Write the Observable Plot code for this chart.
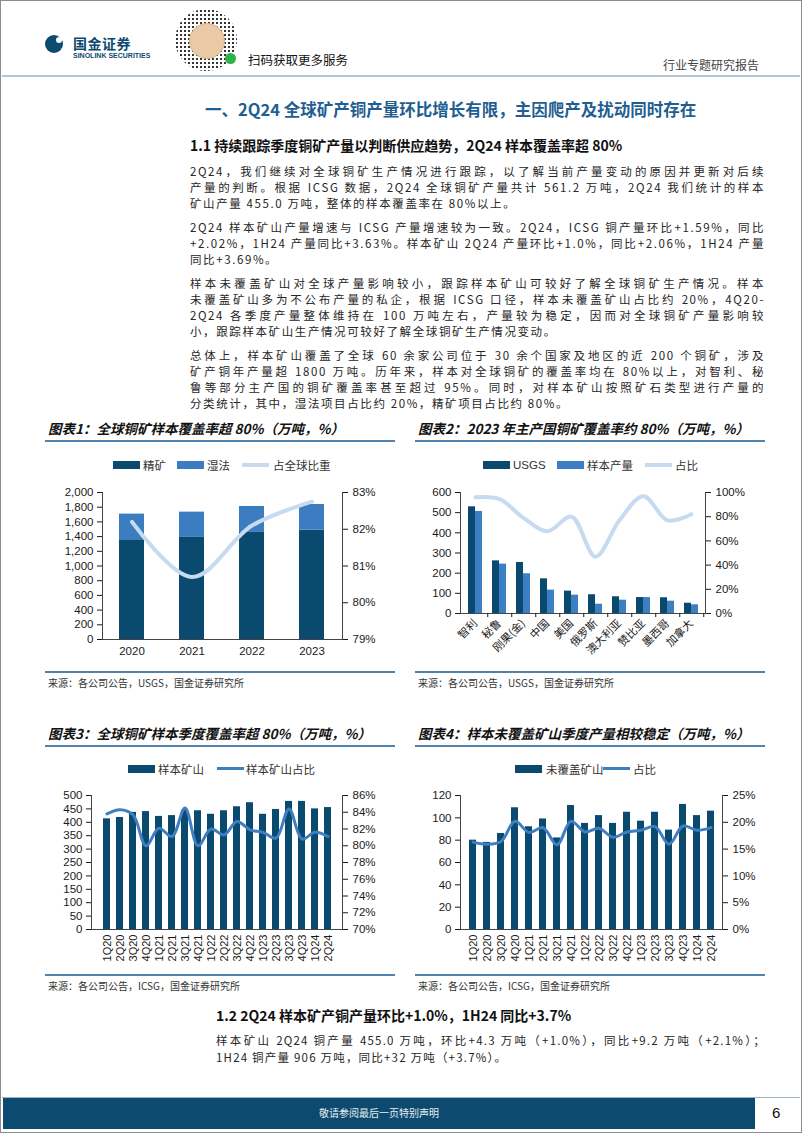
<!DOCTYPE html>
<html><head><meta charset="utf-8">
<script src="https://cdn.jsdelivr.net/npm/d3@7"></script>
<script src="https://cdn.jsdelivr.net/npm/@observablehq/plot@0.6"></script>
<style>
body{margin:0;background:#fff;}
#page{position:relative;width:802px;height:1133px;overflow:hidden;background:#fff;font-family:"Noto Sans CJK SC",sans-serif;color:#222;}
.t{position:absolute;white-space:nowrap;}
.p{position:absolute;left:190px;width:575px;font-size:11.5px;line-height:16px;letter-spacing:1.6px;font-family:"Noto Sans CJK SC",sans-serif;color:#262626;}
.p div{height:16px;text-align:justify;text-align-last:justify;}
.p div.last{text-align-last:left;}
.ctitle{position:absolute;font-size:13.5px;font-weight:700;font-style:italic;line-height:18px;white-space:nowrap;color:#111;}
.rule{position:absolute;height:2px;background:#4f82ad;}
.src{position:absolute;font-size:10px;line-height:14px;color:#333;white-space:nowrap;}
.lg{position:absolute;font-size:11.5px;line-height:14px;color:#333;white-space:nowrap;}
.sw{position:absolute;width:27px;height:8px;}
.ln{position:absolute;width:27px;}
.chart{position:absolute;}
</style></head>
<body><div id="page">
<div style="position:absolute;left:0;top:0;width:802px;height:1133px;border:1px solid #8c8c8c;box-sizing:border-box;"></div>
<!-- header -->
<div style="position:absolute;left:45px;top:35px;width:18px;height:18px;border-radius:50%;background:#0d4a6f;"></div>
<div style="position:absolute;left:56px;top:37px;width:6px;height:6px;border-radius:50%;background:#fff;"></div>
<div class="t" style="left:73px;top:34px;font-size:14px;line-height:18px;font-weight:700;color:#0d4a6f;letter-spacing:0.5px;">国金证券</div>
<div class="t" style="left:73px;top:52px;font-size:7px;line-height:8px;font-weight:700;color:#0d4a6f;font-family:'Liberation Sans',sans-serif;">SINOLINK SECURITIES</div>
<div style="position:absolute;left:175px;top:9px;width:62px;height:62px;border-radius:50%;background:radial-gradient(circle,#333 0.9px,transparent 1.3px) 0 0/4px 4px;"></div>
<div style="position:absolute;left:189px;top:23px;width:34px;height:34px;border-radius:50%;background:#e9c9a6;border:1px solid #d9b48c;"></div>
<div style="position:absolute;left:225px;top:53px;width:11px;height:11px;border-radius:50%;background:#2cb34a;"></div>
<div class="t" style="left:248px;top:51px;font-size:12.5px;line-height:18px;color:#111;">扫码获取更多服务</div>
<div class="t" style="left:663px;top:57px;font-size:12px;line-height:16px;color:#444;">行业专题研究报告</div>
<div style="position:absolute;left:2px;top:75px;width:798px;height:2px;background:#b5c6d3;"></div>

<div class="t" style="left:205px;top:98px;font-size:16.5px;line-height:22px;font-weight:700;color:#1e5e90;">一、2Q24 全球矿产铜产量环比增长有限，主因爬产及扰动同时存在</div>
<div class="t" style="left:190px;top:136px;font-size:14px;line-height:18px;font-weight:700;color:#111;">1.1 持续跟踪季度铜矿产量以判断供应趋势，2Q24 样本覆盖率超 80%</div>

<div class="p" style="top:163px;">
<div>2Q24，我们继续对全球铜矿生产情况进行跟踪，以了解当前产量变动的原因并更新对后续</div>
<div>产量的判断。根据 ICSG 数据，2Q24 全球铜矿产量共计 561.2 万吨，2Q24 我们统计的样本</div>
<div class="last">矿山产量 455.0 万吨，整体的样本覆盖率在 80%以上。</div>
</div>
<div class="p" style="top:219px;">
<div>2Q24 样本矿山产量增速与 ICSG 产量增速较为一致。2Q24，ICSG 铜产量环比+1.59%，同比</div>
<div>+2.02%，1H24 产量同比+3.63%。样本矿山 2Q24 产量环比+1.0%，同比+2.06%，1H24 产量</div>
<div class="last">同比+3.69%。</div>
</div>
<div class="p" style="top:275px;">
<div>样本未覆盖矿山对全球产量影响较小，跟踪样本矿山可较好了解全球铜矿生产情况。样本</div>
<div>未覆盖矿山多为不公布产量的私企，根据 ICSG 口径，样本未覆盖矿山占比约 20%，4Q20-</div>
<div>2Q24 各季度产量整体维持在 100 万吨左右，产量较为稳定，因而对全球铜矿产量影响较</div>
<div class="last">小，跟踪样本矿山生产情况可较好了解全球铜矿生产情况变动。</div>
</div>
<div class="p" style="top:347px;">
<div>总体上，样本矿山覆盖了全球 60 余家公司位于 30 余个国家及地区的近 200 个铜矿，涉及</div>
<div>矿产铜年产量超 1800 万吨。历年来，样本对全球铜矿的覆盖率均在 80%以上，对智利、秘</div>
<div>鲁等部分主产国的铜矿覆盖率甚至超过 95%。同时，对样本矿山按照矿石类型进行产量的</div>
<div class="last">分类统计，其中，湿法项目占比约 20%，精矿项目占比约 80%。</div>
</div>

<!-- chart frames -->
<div class="ctitle" style="left:48px;top:419px;">图表1：全球铜矿样本覆盖率超 80%（万吨，%）</div>
<div class="ctitle" style="left:418px;top:419px;">图表2：2023 年主产国铜矿覆盖率约 80%（万吨，%）</div>
<div class="rule" style="left:45px;top:440px;width:350px;"></div>
<div class="rule" style="left:415px;top:440px;width:350px;"></div>
<div class="rule" style="left:45px;top:671px;width:350px;"></div>
<div class="rule" style="left:415px;top:671px;width:350px;"></div>
<div class="src" style="left:48px;top:676px;">来源：各公司公告，USGS，国金证券研究所</div>
<div class="src" style="left:418px;top:676px;">来源：各公司公告，USGS，国金证券研究所</div>

<div class="ctitle" style="left:48px;top:724px;">图表3：全球铜矿样本季度覆盖率超 80%（万吨，%）</div>
<div class="ctitle" style="left:418px;top:724px;">图表4：样本未覆盖矿山季度产量相较稳定（万吨，%）</div>
<div class="rule" style="left:45px;top:745px;width:350px;"></div>
<div class="rule" style="left:415px;top:745px;width:350px;"></div>
<div class="rule" style="left:45px;top:974px;width:350px;"></div>
<div class="rule" style="left:415px;top:974px;width:350px;"></div>
<div class="src" style="left:48px;top:979px;">来源：各公司公告，ICSG，国金证券研究所</div>
<div class="src" style="left:418px;top:979px;">来源：各公司公告，ICSG，国金证券研究所</div>

<!-- legends -->
<div class="sw" style="left:113px;top:461px;background:#0b4a6f;"></div><div class="lg" style="left:143px;top:458px;">精矿</div>
<div class="sw" style="left:177px;top:461px;background:#3b7dc0;"></div><div class="lg" style="left:207px;top:458px;">湿法</div>
<div class="ln" style="left:242px;top:463px;height:4px;background:#c6dbef;"></div><div class="lg" style="left:273px;top:458px;">占全球比重</div>

<div class="sw" style="left:483px;top:461px;background:#0b4a6f;"></div><div class="lg" style="left:513px;top:458px;font-family:'Liberation Sans',sans-serif;">USGS</div>
<div class="sw" style="left:557px;top:461px;background:#3d7fc3;"></div><div class="lg" style="left:587px;top:458px;">样本产量</div>
<div class="ln" style="left:645px;top:463px;height:4px;background:#c6dbef;"></div><div class="lg" style="left:675px;top:458px;">占比</div>

<div class="sw" style="left:128px;top:765px;background:#0b4a6f;"></div><div class="lg" style="left:158px;top:762px;">样本矿山</div>
<div class="ln" style="left:217px;top:767px;height:3px;background:#3f7fc1;"></div><div class="lg" style="left:246px;top:762px;">样本矿山占比</div>

<div class="sw" style="left:515px;top:765px;background:#0b4a6f;"></div><div class="lg" style="left:546px;top:762px;">未覆盖矿山</div>
<div class="ln" style="left:603px;top:767px;height:3px;background:#3f7fc1;"></div><div class="lg" style="left:633px;top:762px;">占比</div>

<div id="c1" class="chart" style="left:40px;top:480px;"></div>
<div id="c2" class="chart" style="left:410px;top:480px;"></div>
<div id="c3" class="chart" style="left:40px;top:785px;"></div>
<div id="c4" class="chart" style="left:410px;top:785px;"></div>

<!-- section 1.2 -->
<div class="t" style="left:216px;top:1006px;font-size:14px;line-height:18px;font-weight:700;color:#111;">1.2 2Q24 样本矿产铜产量环比+1.0%，1H24 同比+3.7%</div>
<div class="p" style="left:216px;width:550px;top:1032px;font-size:11.5px;line-height:17px;letter-spacing:1.2px;">
<div style="height:17px;">样本矿山 2Q24 铜产量 455.0 万吨，环比+4.3 万吨（+1.0%），同比+9.2 万吨（+2.1%）；</div>
<div class="last" style="height:17px;">1H24 铜产量 906 万吨，同比+32 万吨（+3.7%）。</div>
</div>

<!-- footer -->
<div style="position:absolute;left:2px;top:1097px;width:798px;height:1px;background:#9db4c6;"></div>
<div style="position:absolute;left:3px;top:1098px;width:752px;height:31px;background:#0d4a6f;"></div>
<div class="t" style="left:3px;width:752px;top:1106px;text-align:center;font-size:10px;line-height:14px;color:#e8eef3;">敬请参阅最后一页特别声明</div>
<div class="t" style="left:772px;top:1103px;font-size:15px;line-height:20px;color:#111;font-family:'Liberation Sans',sans-serif;">6</div>
</div>

<script>
// ---------- data ----------
const years = ["2020", "2021", "2022", "2023"];
const concentrate = [1357, 1389, 1457, 1489];   // 精矿
const hydromet = [349, 344, 353, 348];          // 湿法
const globalShare = [82.2, 80.7, 82.1, 82.75];  // 占全球比重 %

const countries = ["智利", "秘鲁", "刚果(金)", "中国", "美国", "俄罗斯", "澳大利亚", "赞比亚", "墨西哥", "加拿大"];
const usgs = [529, 261, 253, 172, 111, 93, 83, 79, 78, 51];
const sample = [506, 245, 197, 116, 91, 46, 66, 79, 61, 43];
const countryShare = [96, 94.5, 79, 68, 80, 47, 77, 97, 77, 82];

const quarters = ["1Q20","2Q20","3Q20","4Q20","1Q21","2Q21","3Q21","4Q21","1Q22","2Q22","3Q22","4Q22","1Q23","2Q23","3Q23","4Q23","1Q24","2Q24"];
const sampleMines = [413, 418, 437, 440, 422, 425, 445, 443, 430, 443, 458, 473, 430, 448, 478, 478, 450, 455];
const sampleShare = [83.8, 84.3, 83.7, 80.0, 82.1, 81.1, 84.5, 80.0, 82.0, 81.3, 82.9, 81.9, 81.6, 80.9, 84.4, 80.8, 81.6, 81.1];
const uncovered = [80, 78, 86, 109, 92, 99, 82, 111, 95, 102, 95, 105, 97, 105, 89, 112, 102, 106];
const uncoveredShare = [16.3, 15.9, 16.4, 20.2, 18.1, 19.0, 15.8, 20.2, 18.2, 18.9, 17.2, 18.2, 18.5, 19.2, 15.9, 19.3, 18.5, 19.0];

// ---------- style ----------
const DARK = "#0b4a6f", MID = "#3b7dc0", LIGHT = "#c6dbef", LINE = "#3f7fc1", AX = "#444";
const SANS = '"Liberation Sans", Arial, "Noto Sans CJK SC", sans-serif';
const CJK = '"Noto Sans CJK SC", sans-serif';
const baseStyle = {fontFamily: SANS, fontSize: "11.5px", color: "#1a1a1a", background: "transparent", overflow: "visible"};

function dual(lmax, rmin, rmax) {
  const f = v => (v - rmin) / (rmax - rmin) * lmax;
  f.inv = y => rmin + y / lmax * (rmax - rmin);
  return f;
}
const frames = () => [
  Plot.frame({anchor: "left", stroke: AX}),
  Plot.frame({anchor: "right", stroke: AX}),
  Plot.ruleY([0], {stroke: AX})
];

// ---------- chart 1 ----------
{
  const t = dual(2000, 79, 83);
  const rows = years.flatMap((y, i) => [
    {year: y, type: "精矿", v: concentrate[i]},
    {year: y, type: "湿法", v: hydromet[i]}
  ]);
  const share = years.map((y, i) => ({year: y, v: globalShare[i]}));
  const p = Plot.plot({
    width: 360, height: 185, marginLeft: 62, marginRight: 58, marginTop: 12, marginBottom: 26,
    style: baseStyle,
    x: {domain: years, paddingInner: 0.58, paddingOuter: 0.29},
    y: {domain: [0, 2000]},
    color: {domain: ["精矿", "湿法"], range: [DARK, MID]},
    marks: [
      Plot.barY(rows, {x: "year", y: "v", fill: "type"}),
      Plot.line(share, {x: "year", y: d => t(d.v), stroke: LIGHT, strokeWidth: 4, curve: "catmull-rom"}),
      ...frames(),
      Plot.axisY(d3.range(0, 2001, 200), {anchor: "left", tickFormat: d3.format(","), label: null, tickSize: 5, tickPadding: 4}),
      Plot.axisY(d3.range(79, 84).map(t), {anchor: "right", tickFormat: d => Math.round(t.inv(d)) + "%", label: null, tickSize: 5, tickPadding: 5}),
      Plot.axisX({tickSize: 0, tickPadding: 7, label: null})
    ]
  });
  document.getElementById("c1").append(p);
}

// ---------- chart 2 ----------
{
  const t = dual(600, 0, 100);
  const rows = countries.map((c, i) => ({c, usgs: usgs[i], sample: sample[i], s: countryShare[i]}));
  const step = 245 / 10, bw = step * (1 - 0.43);
  const p = Plot.plot({
    width: 360, height: 190, marginLeft: 50, marginRight: 65, marginTop: 12, marginBottom: 57,
    style: baseStyle,
    x: {domain: countries, paddingInner: 0.43, paddingOuter: 0.215},
    y: {domain: [0, 600]},
    marks: [
      Plot.barY(rows, {x: "c", y: "usgs", fill: DARK, insetRight: bw / 2}),
      Plot.barY(rows, {x: "c", y: "sample", fill: "#3d7fc3", insetLeft: bw / 2}),
      Plot.line(rows, {x: "c", y: d => t(d.s), stroke: LIGHT, strokeWidth: 4, curve: "catmull-rom"}),
      ...frames(),
      Plot.axisY(d3.range(0, 601, 100), {anchor: "left", label: null, tickSize: 5, tickPadding: 4}),
      Plot.axisY(d3.range(0, 101, 20).map(t), {anchor: "right", tickFormat: d => Math.round(t.inv(d)) + "%", label: null, tickSize: 5, tickPadding: 5}),
      Plot.axisX({tickSize: 4, tickFormat: () => "", dx: step / 2, label: null}),
      Plot.axisX({tickSize: 0, tickPadding: 8, tickRotate: -45, label: null, fontFamily: CJK, fontSize: 11})
    ]
  });
  document.getElementById("c2").append(p);
}

// ---------- chart 3 ----------
{
  const t = dual(500, 70, 86);
  const rows = quarters.map((q, i) => ({q, v: sampleMines[i], s: sampleShare[i]}));
  const p = Plot.plot({
    width: 360, height: 190, marginLeft: 51, marginRight: 58, marginTop: 10, marginBottom: 46,
    style: baseStyle,
    x: {domain: quarters, paddingInner: 0.5, paddingOuter: 0.25},
    y: {domain: [0, 500]},
    marks: [
      Plot.barY(rows, {x: "q", y: "v", fill: DARK}),
      Plot.line(rows, {x: "q", y: d => t(d.s), stroke: LINE, strokeWidth: 3, curve: "catmull-rom"}),
      ...frames(),
      Plot.axisY(d3.range(0, 501, 50), {anchor: "left", label: null, tickSize: 5, tickPadding: 4}),
      Plot.axisY(d3.range(70, 87, 2).map(t), {anchor: "right", tickFormat: d => Math.round(t.inv(d)) + "%", label: null, tickSize: 5, tickPadding: 5}),
      Plot.axisX({tickSize: 0, tickPadding: 5, tickRotate: -90, label: null, fontSize: 11})
    ]
  });
  document.getElementById("c3").append(p);
}

// ---------- chart 4 ----------
{
  const t = dual(120, 0, 25);
  const rows = quarters.map((q, i) => ({q, v: uncovered[i], s: uncoveredShare[i]}));
  const p = Plot.plot({
    width: 360, height: 190, marginLeft: 50, marginRight: 48, marginTop: 10, marginBottom: 46,
    style: baseStyle,
    x: {domain: quarters, paddingInner: 0.5, paddingOuter: 0.25},
    y: {domain: [0, 120]},
    marks: [
      Plot.barY(rows, {x: "q", y: "v", fill: DARK}),
      Plot.line(rows, {x: "q", y: d => t(d.s), stroke: LINE, strokeWidth: 3, curve: "catmull-rom"}),
      ...frames(),
      Plot.axisY(d3.range(0, 121, 20), {anchor: "left", label: null, tickSize: 5, tickPadding: 4}),
      Plot.axisY(d3.range(0, 26, 5).map(t), {anchor: "right", tickFormat: d => Math.round(t.inv(d)) + "%", label: null, tickSize: 5, tickPadding: 5}),
      Plot.axisX({tickSize: 0, tickPadding: 5, tickRotate: -90, label: null, fontSize: 11})
    ]
  });
  document.getElementById("c4").append(p);
}
</script>
</body></html>
